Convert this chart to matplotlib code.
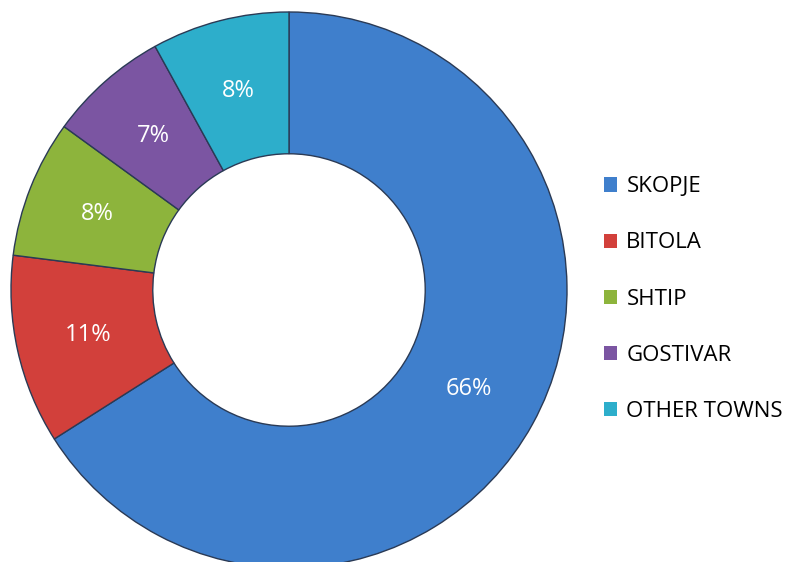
import matplotlib.pyplot as plt
from matplotlib.patches import Patch

# Data
towns = ["SKOPJE", "BITOLA", "SHTIP", "GOSTIVAR", "OTHER TOWNS"]
shares = [66, 11, 8, 7, 8]
colors = ["#3F7FCC", "#D2403B", "#8DB43C", "#7B55A2", "#2DAECB"]

fig = plt.figure(figsize=(7.92, 5.62), dpi=100)

# donut centred at about (289, 290) px, outer radius ~278 px
cx, cy, r = 289, 562 - 290, 278
ax = fig.add_axes([(cx - r) / 792, (cy - r) / 562, 2 * r / 792, 2 * r / 562])

wedges, texts = ax.pie(
    shares,
    colors=colors,
    startangle=90,
    counterclock=False,
    radius=1.0,
    labels=[f"{v}%" for v in shares],
    labeldistance=0.74,
    wedgeprops=dict(width=0.51, edgecolor="#2a3a55", linewidth=1.0),
    textprops=dict(color="white", fontsize=17, family="Open Sans", ha="center", va="center"),
)
ax.set_xlim(-1, 1)
ax.set_ylim(-1, 1)
ax.set_aspect("equal")
ax.axis("off")

handles = [Patch(facecolor=c, edgecolor="none") for c in colors]
fig.legend(
    handles, towns,
    loc="center left",
    bbox_to_anchor=(593 / 792, (562 - 299) / 562),
    frameon=False,
    prop=dict(family="Open Sans", size=16),
    handlelength=0.6,
    handleheight=0.6,
    handletextpad=0.4,
    labelspacing=1.58,
    borderpad=0,
)

plt.savefig("out.png", dpi=100)
